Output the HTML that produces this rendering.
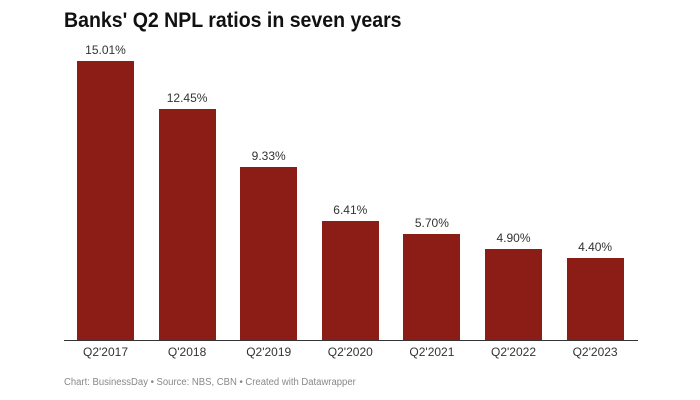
<!DOCTYPE html>
<html><head><style>
body{margin:0;background:#fff;width:700px;height:400px;overflow:hidden;font-family:"Liberation Sans",sans-serif;position:relative}
.t{position:absolute;left:64px;top:9px;font-size:21px;font-weight:bold;color:#111;transform:scaleX(0.93);transform-origin:0 0;white-space:nowrap}
.b{position:absolute;width:57px;background:#8b1c16}
.v{position:absolute;width:100px;text-align:center;font-size:12px;color:#333}
.c{position:absolute;width:100px;text-align:center;font-size:12px;color:#333;top:345px}
.ax{position:absolute;left:64px;width:574px;top:340px;height:1px;background:#333}
.f{position:absolute;left:64px;top:377px;font-size:10px;color:#888;transform:scaleX(0.95);transform-origin:0 0;white-space:nowrap}
</style></head><body>
<div class="t">Banks' Q2 NPL ratios in seven years</div>
<div id="g"></div>
<div class="ax"></div>
<div class="f">Chart: BusinessDay • Source: NBS, CBN • Created with Datawrapper</div>
<script>
var d=[["Q2'2017",15.01,"15.01%"],["Q'2018",12.45,"12.45%"],["Q2'2019",9.33,"9.33%"],["Q2'2020",6.41,"6.41%"],["Q2'2021",5.70,"5.70%"],["Q2'2022",4.90,"4.90%"],["Q2'2023",4.40,"4.40%"]];
var h="";
d.forEach(function(e,i){var x=77+i*81.6,hh=e[1]*18.59,top=340-hh;
h+='<div class="b" style="left:'+x+'px;top:'+top+'px;height:'+hh+'px"></div>';
h+='<div class="v" style="left:'+(x-21.5)+'px;top:'+(top-18)+'px">'+e[2]+'</div>';
h+='<div class="c" style="left:'+(x-21.5)+'px">'+e[0]+'</div>';});
document.getElementById("g").innerHTML=h;
</script>
</body></html>
